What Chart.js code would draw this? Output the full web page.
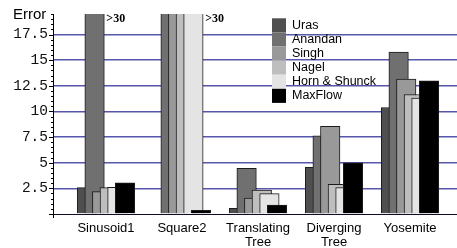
<!DOCTYPE html>
<html>
<head>
<meta charset="utf-8">
<script src="https://cdn.jsdelivr.net/npm/chart.js@4.4.1/dist/chart.umd.min.js"></script>
<style>
  html, body { margin: 0; padding: 0; background: #fff; }
  #wrap { width: 457px; height: 248px; }
</style>
</head>
<body>
<div id="wrap"><canvas id="chart_canvas" width="457" height="248"></canvas></div>
<script>
// data (values above 30 were clipped in the original)
const categories = ['Sinusoid1', 'Square2', 'Translating Tree', 'Diverging Tree', 'Yosemite']
const methods = ['Uras', 'Anandan', 'Singh', 'Nagel', 'Horn & Shunck', 'MaxFlow']
const uras     = [2.57, null, 0.55, 4.56, 10.38]
const anandan  = [31,   31,   4.46, 7.62, 15.79]
const singh    = [2.18, 31,   1.56, 8.56, 13.15]
const nagel    = [2.57, 31,   2.34, 2.90, 11.65]
const hornSchunck = [2.60, 31, 1.98, 2.57, 11.30]
const maxFlow  = [3.03, 0.36, 0.88, 4.98, 12.99]
const yTicks = [0, 2.5, 5, 7.5, 10, 12.5, 15, 17.5]
const clipLabel = '>30'

const series = [uras, anandan, singh, nagel, hornSchunck, maxFlow]
const colors = ['#4f4f4f', '#707070', '#999999', '#bebebe', '#e4e4e4', '#000000']
const barStep = 0.1   // overlap offset between the bars of one group (x units)
const yMax = 19.5

const datasets = series.map((vals, d) => ({
    label: methods[d],
    data: categories.map((c, i) => ({x: i + (d - 2.5) * barStep, y: vals[i]})),
    backgroundColor: colors[d],
    borderColor: '#1c1c1c',
    borderWidth: 1,
    borderSkipped: 'bottom',
    barThickness: 19.5,
    grouped: false,
    order: -d
}))

const extras = {
    id: 'extras',
    afterDraw(chart) {
        const {ctx, chartArea: a, scales: {y}} = chart
        ctx.save()

        // minor + major ticks on the y axis
        ctx.strokeStyle = '#000'
        ctx.lineWidth = 1
        for (let v = 0; v <= yMax + 0.01; v += 0.5) {
            const py = Math.round(y.getPixelForValue(v)) + 0.5
            const len = (v % 2.5 === 0) ? 4 : 2
            ctx.beginPath()
            ctx.moveTo(a.left - len, py)
            ctx.lineTo(a.left, py)
            ctx.stroke()
        }
        ctx.beginPath()
        ctx.moveTo(a.left + 0.5, a.top)
        ctx.lineTo(a.left + 0.5, a.bottom + 4)
        ctx.stroke()

        // axis title
        ctx.fillStyle = '#000'
        ctx.font = '15px "Liberation Sans", Arial, sans-serif'
        ctx.textAlign = 'left'
        ctx.textBaseline = 'middle'
        ctx.fillText('Error', a.left - 40, a.top + 1)

        // ">30" markers after the last clipped bar of each group
        ctx.font = 'bold 12px "Liberation Serif", "Times New Roman", serif'
        categories.forEach((c, i) => {
            let last = null
            chart.data.datasets.forEach((ds, d) => {
                const v = ds.data[i].y
                if (v !== null && v > yMax) last = chart.getDatasetMeta(d).data[i]
            })
            if (last) ctx.fillText(clipLabel, last.x + last.width / 2 + 2, a.top + 5)
        })

        // legend
        const lx = a.left + 219, ly = a.top + 4.3, rowH = 14.1
        ctx.font = '12.5px "Liberation Sans", Arial, sans-serif'
        methods.forEach((m, d) => {
            ctx.fillStyle = colors[d]
            ctx.fillRect(lx, ly + d * rowH, 14, rowH)
            ctx.fillStyle = '#000'
            ctx.fillText(m, lx + 20, ly + d * rowH + rowH / 2)
        })
        ctx.restore()
    }
}

document.addEventListener('DOMContentLoaded', () => {
    const ctx = document.getElementById('chart_canvas').getContext('2d')
    new Chart(ctx, {
        type: 'bar',
        data: {datasets},
        options: {
            responsive: false,
            animation: false,
            layout: {padding: {top: 14, right: 0, left: 0, bottom: 0}},
            scales: {
                x: {
                    type: 'linear',
                    offset: false,
                    min: -0.697,
                    max: 4.618,
                    afterFit: s => { s.height = 34 },
                    afterBuildTicks: s => { s.ticks = categories.map((c, i) => ({value: i})) },
                    grid: {display: false, drawTicks: false},
                    border: {display: true, color: '#0d0d2a', width: 1},
                    ticks: {
                        padding: 7,
                        color: '#000',
                        maxRotation: 0,
                        autoSkip: false,
                        font: {family: '"Liberation Sans", Arial, sans-serif', size: 13, lineHeight: 1.12},
                        callback: v => {
                            const c = categories[v]
                            return c && c.includes(' ') ? c.split(' ') : c
                        }
                    }
                },
                y: {
                    min: 0,
                    max: yMax,
                    afterFit: s => { s.width = 53 },
                    afterBuildTicks: s => { s.ticks = yTicks.map(v => ({value: v})) },
                    grid: {
                        drawTicks: false,
                        color: c => c.tick && c.tick.value === 0 ? 'rgba(0,0,0,0)' : '#5656ad',
                        lineWidth: 1.5
                    },
                    border: {display: false},
                    ticks: {
                        padding: 5,
                        color: '#111',
                        font: {family: '"Liberation Mono", "Courier New", monospace', size: 14.5},
                        callback: v => v === 0 ? '' : String(v)
                    }
                }
            },
            plugins: {
                legend: {display: false},
                tooltip: {enabled: false}
            }
        },
        plugins: [extras]
    })
})
</script>
</body>
</html>
